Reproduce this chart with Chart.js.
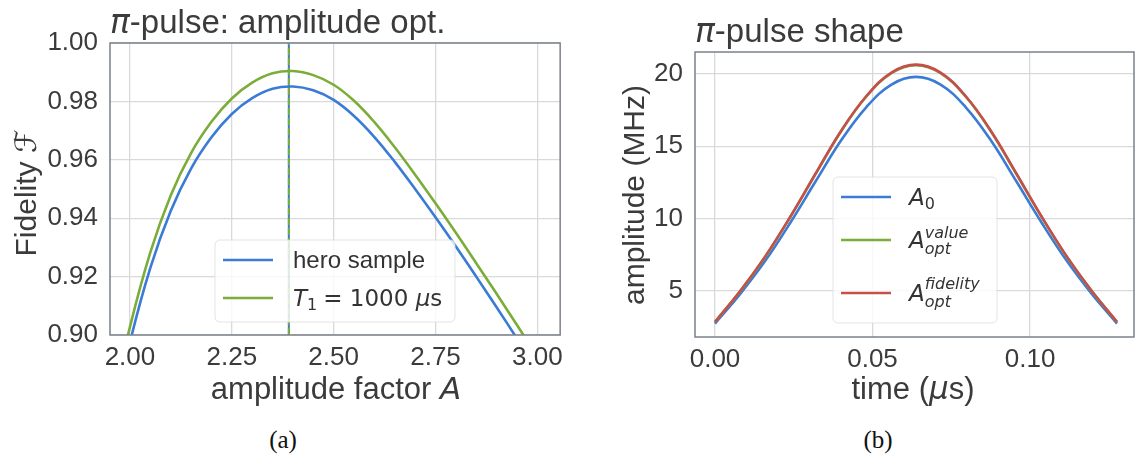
<!DOCTYPE html>
<html>
<head>
<meta charset="utf-8">
<script src="https://cdn.jsdelivr.net/npm/chart.js@4.4.0/dist/chart.umd.min.js"></script>
<style>
    html, body { margin: 0; padding: 0; background: #fff; width: 1137px; height: 466px; overflow: hidden; }
    .box { position: absolute; top: 0; height: 420px; }
    .cap { position: absolute; top: 426px; width: 60px; text-align: center; font: 25px 'Liberation Serif', serif; color: #111; }
</style>
</head>
<body>
<div class="box" style="left:0;width:570px"><canvas id="fidChart" width="570" height="420"></canvas></div>
<div class="box" style="left:570px;width:567px"><canvas id="shapeChart" width="567" height="420"></canvas></div>
<div class="cap" style="left:253px">(a)</div>
<div class="cap" style="left:848px">(b)</div>

<script>
// (a) fidelity vs amplitude factor
const ampFactor = [1.95, 2.00, 2.05, 2.10, 2.15, 2.20, 2.25, 2.30, 2.35, 2.40, 2.45, 2.50,
                   2.55, 2.60, 2.65, 2.70, 2.75, 2.80, 2.85, 2.90, 2.95, 3.00, 3.05];
const heroFid = [0.866, 0.8975, 0.9230, 0.9425, 0.9570, 0.9677, 0.9757, 0.9811, 0.9843, 0.9851, 0.9838, 0.9805,
                 0.9750, 0.9678, 0.9593, 0.9500, 0.9403, 0.9303, 0.9200, 0.9095, 0.8988, 0.8878, 0.8765];
const t1Fid = [0.872, 0.9028, 0.9283, 0.9478, 0.9623, 0.9730, 0.9810, 0.9864, 0.9896, 0.9904, 0.9890, 0.9857,
               0.9802, 0.9729, 0.9643, 0.9549, 0.9451, 0.9350, 0.9246, 0.9141, 0.9034, 0.8924, 0.8810];
const optAmp = 2.39;
const fidTicksX = [2.00, 2.25, 2.50, 2.75, 3.00];
const fidTicksY = [0.90, 0.92, 0.94, 0.96, 0.98, 1.00];

// (b) pulse shape
const pulseT = [0, 0.008, 0.016, 0.024, 0.032, 0.040, 0.048, 0.056, 0.0638,
                0.0716, 0.0796, 0.0876, 0.0956, 0.1036, 0.1116, 0.1196, 0.1276];
const pulseA0 = [2.75, 4.8, 7.1, 9.75, 12.6, 15.4, 17.7, 19.27, 19.8,
                 19.27, 17.7, 15.4, 12.6, 9.75, 7.1, 4.8, 2.75];
const pulseValue = [2.86, 4.99, 7.39, 10.15, 13.12, 16.03, 18.43, 20.06, 20.61,
                    20.06, 18.43, 16.03, 13.12, 10.15, 7.39, 4.99, 2.86];
const pulseFidelity = [2.87, 5.0, 7.41, 10.17, 13.14, 16.06, 18.46, 20.1, 20.65,
                       20.1, 18.46, 16.06, 13.14, 10.17, 7.41, 5.0, 2.87];
const shapeTicksX = [0.00, 0.05, 0.10];
const shapeTicksY = [5, 10, 15, 20];

const BLUE = "#3a7bd5";
const GREEN = "#7cad3a";
const RED = "#c5504b";
const TEXT = "#3b3b3b";
const GRID = "#d9d9d9";
const SANS = "'Liberation Sans', Arial, sans-serif";
const MATH = "'DejaVu Sans', sans-serif";

function pts(xs, ys) {
    return xs.map((x, i) => ({ x: x, y: ys[i] }));
}

function partsWidth(ctx, parts) {
    let w = 0;
    parts.forEach(p => {
        ctx.font = p.font;
        if (p.sub || p.sup) {
            w += Math.max(ctx.measureText(p.sub || "").width, ctx.measureText(p.sup || "").width);
        } else {
            w += ctx.measureText(p.text).width;
        }
        w += p.gap || 0;
    });
    return w;
}

function richText(ctx, parts, x, y, align) {
    let cx = align === "center" ? x - partsWidth(ctx, parts) / 2 : x;
    parts.forEach(p => {
        ctx.font = p.font;
        if (p.sub || p.sup) {
            if (p.sup) ctx.fillText(p.sup, cx, y - p.supUp);
            if (p.sub) ctx.fillText(p.sub, cx, y + p.subDown);
            cx += Math.max(ctx.measureText(p.sub || "").width, ctx.measureText(p.sup || "").width);
        } else {
            ctx.fillText(p.text, cx, y + (p.dy || 0));
            cx += ctx.measureText(p.text).width;
        }
        cx += p.gap || 0;
    });
}

function decor(cfg) {
    return {
        id: "decor",
        afterDatasetsDraw(chart) {
            const ctx = chart.ctx;
            const lg = cfg.legend;
            ctx.save();
            ctx.beginPath();
            ctx.roundRect(lg.x, lg.y, lg.w, lg.h, 5);
            ctx.fillStyle = "rgba(255,255,255,0.8)";
            ctx.fill();
            ctx.strokeStyle = "rgba(220,220,220,0.8)";
            ctx.lineWidth = 1;
            ctx.stroke();
            lg.items.forEach(it => {
                ctx.beginPath();
                ctx.strokeStyle = it.color;
                ctx.lineWidth = 2.6;
                ctx.moveTo(lg.x + 8, it.y);
                ctx.lineTo(lg.x + 58, it.y);
                ctx.stroke();
                ctx.fillStyle = "#333";
                ctx.textBaseline = "alphabetic";
                richText(ctx, it.parts, lg.x + lg.textX, it.y + it.base, "left");
            });
            ctx.restore();
        },
        afterDraw(chart) {
            const ctx = chart.ctx;
            const a = chart.chartArea;
            ctx.save();
            ctx.strokeStyle = "#7a808c";
            ctx.lineWidth = 1.5;
            ctx.strokeRect(a.left, a.top, a.right - a.left, a.bottom - a.top);
            ctx.fillStyle = TEXT;
            ctx.textBaseline = "alphabetic";
            richText(ctx, cfg.title, a.left, cfg.titleY, "left");
            richText(ctx, cfg.xLabel, cfg.xLabelX, cfg.xLabelY, "center");
            ctx.translate(cfg.yLabelX, cfg.yLabelY);
            ctx.rotate(-Math.PI / 2);
            richText(ctx, cfg.yLabel, 0, 0, "center");
            ctx.restore();
        }
    };
}

function axis(min, max, ticks, digits, fit, pad) {
    return {
        type: "linear",
        min: min,
        max: max,
        afterBuildTicks: s => { s.ticks = ticks.map(v => ({ value: v })); },
        afterFit: fit,
        border: { display: false },
        grid: { color: GRID, lineWidth: 1.3, drawTicks: false },
        ticks: {
            autoSkip: false,
            maxRotation: 0,
            padding: pad,
            color: TEXT,
            font: { family: SANS, size: 26 },
            callback: v => v.toFixed(digits)
        }
    };
}

function line(label, data, color, order, extra) {
    return Object.assign({
        label: label,
        data: data,
        borderColor: color,
        borderWidth: 2.6,
        pointRadius: 0,
        fill: false,
        tension: 0.4,
        order: order
    }, extra || {});
}

const fidSpan = [{ x: optAmp, y: fidTicksY[0] }, { x: optAmp, y: fidTicksY[fidTicksY.length - 1] }];

new Chart(document.getElementById("fidChart").getContext("2d"), {
    type: "line",
    data: {
        datasets: [
            line("hero sample", pts(ampFactor, heroFid), BLUE, 4),
            line("T1 = 1000 us", pts(ampFactor, t1Fid), GREEN, 3),
            line("opt hero", fidSpan, BLUE, 2, { borderWidth: 2 }),
            line("opt T1", fidSpan, GREEN, 1, { borderWidth: 2, borderDash: [7, 3] })
        ]
    },
    options: {
        responsive: false,
        animation: false,
        layout: { padding: { left: 0, right: 7, top: 43, bottom: 0 } },
        plugins: { legend: { display: false }, title: { display: false }, tooltip: { enabled: false } },
        scales: {
            x: axis(1.951, 3.056, fidTicksX, 2, s => { s.height = 85; }, 7),
            y: axis(0.90, 1.00, fidTicksY, 2, s => { s.width = 110; }, 12)
        }
    },
    plugins: [decor({
        title: [
            { text: "π", font: "italic 33px " + MATH },
            { text: "-pulse: amplitude opt.", font: "33px " + SANS }
        ],
        titleY: 33,
        xLabel: [
            { text: "amplitude factor ", font: "31px " + SANS },
            { text: "A", font: "italic 31px " + MATH }
        ],
        xLabelX: 336,
        xLabelY: 399,
        yLabel: [
            { text: "Fidelity ", font: "30px " + SANS },
            { text: "ℱ", font: "italic 30px " + MATH }
        ],
        yLabelX: 36,
        yLabelY: 193,
        legend: {
            x: 215, y: 240, w: 240, h: 82, textX: 78,
            items: [
                { color: BLUE, y: 260, base: 8, parts: [{ text: "hero sample", font: "24px " + SANS }] },
                { color: GREEN, y: 298, base: 8, parts: [
                    { text: "T", font: "italic 23px " + MATH },
                    { text: "1", font: "16px " + MATH, dy: 4, gap: 6 },
                    { text: "= 1000 ", font: "23px " + MATH },
                    { text: "μ", font: "italic 23px " + MATH },
                    { text: "s", font: "23px " + MATH }
                ] }
            ]
        }
    })]
});

new Chart(document.getElementById("shapeChart").getContext("2d"), {
    type: "line",
    data: {
        datasets: [
            line("A0", pts(pulseT, pulseA0), BLUE, 3),
            line("A opt value", pts(pulseT, pulseValue), GREEN, 2),
            line("A opt fidelity", pts(pulseT, pulseFidelity), RED, 1)
        ]
    },
    options: {
        responsive: false,
        animation: false,
        layout: { padding: { left: 0, right: 3, top: 52, bottom: 0 } },
        plugins: { legend: { display: false }, title: { display: false }, tooltip: { enabled: false } },
        scales: {
            x: axis(-0.00635, 0.133, shapeTicksX, 2, s => { s.height = 83; }, 7),
            y: axis(1.82, 21.52, shapeTicksY, 0, s => { s.width = 125; }, 12)
        }
    },
    plugins: [decor({
        title: [
            { text: "π", font: "italic 33px " + MATH },
            { text: "-pulse shape", font: "33px " + SANS }
        ],
        titleY: 42,
        xLabel: [
            { text: "time (", font: "31px " + SANS },
            { text: "μ", font: "italic 31px " + MATH },
            { text: "s)", font: "31px " + SANS }
        ],
        xLabelX: 343,
        xLabelY: 399,
        yLabel: [{ text: "amplitude (MHz)", font: "30px " + SANS }],
        yLabelX: 74,
        yLabelY: 195,
        legend: {
            x: 263, y: 177, w: 164, h: 146, textX: 76,
            items: [
                { color: BLUE, y: 197, base: 8, parts: [
                    { text: "A", font: "italic 23px " + MATH },
                    { text: "0", font: "16px " + MATH, dy: 4 }
                ] },
                { color: GREEN, y: 240, base: 8, parts: [
                    { text: "A", font: "italic 23px " + MATH },
                    { sub: "opt", sup: "value", font: "italic 16px " + MATH, supUp: 10, subDown: 6 }
                ] },
                { color: RED, y: 293, base: 8, parts: [
                    { text: "A", font: "italic 23px " + MATH },
                    { sub: "opt", sup: "fidelity", font: "italic 16px " + MATH, supUp: 12, subDown: 6 }
                ] }
            ]
        }
    })]
});
</script>
</body>
</html>
